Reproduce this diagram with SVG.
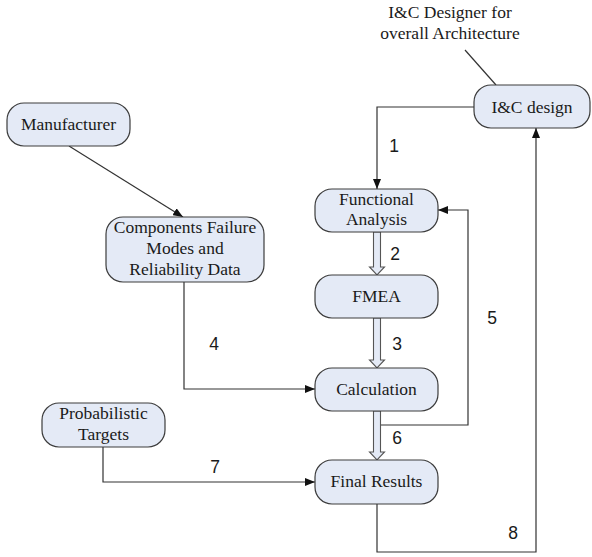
<svg xmlns="http://www.w3.org/2000/svg" width="592" height="557" viewBox="0 0 592 557">
  <style>
    .box { fill: #e4eaf6; stroke: #3c3c3c; stroke-width: 1.2; }
    text.lbl { font-family: "Liberation Serif", "Times New Roman", serif; font-size: 17.5px; fill: #1a1a1a; text-anchor: middle; }
    text.num { font-family: "Liberation Sans", Arial, sans-serif; font-size: 17.5px; fill: #1a1a1a; text-anchor: middle; }
    .wire { fill: none; stroke: #333; stroke-width: 1.2; }
    .flow { fill: #e4eaf6; stroke: #555; stroke-width: 1.1; }
  </style>
  <defs>
    <marker id="tip" viewBox="0 0 10 8" refX="10" refY="4" markerWidth="10" markerHeight="8" markerUnits="userSpaceOnUse" orient="auto">
      <path d="M0,0 L10,4 L0,8 Z" fill="#111"/>
    </marker>
  </defs>

  <rect width="592" height="557" fill="#ffffff"/>

  <!-- connectors -->
  <g id="connectors">
    <line class="wire" x1="465" y1="50" x2="496" y2="85"/>
    <polyline class="wire" points="474,107 377,107 377,189" marker-end="url(#tip)"/>
    <line class="wire" x1="69" y1="146" x2="183" y2="217" marker-end="url(#tip)"/>
    <polyline class="wire" points="184,282 184,389 315,389" marker-end="url(#tip)"/>
    <polyline class="wire" points="380.5,425 468,425 468,210 438,210" marker-end="url(#tip)"/>
    <polyline class="wire" points="103,447 103,482 315,482" marker-end="url(#tip)"/>
    <polyline class="wire" points="377,504 377,552 536,552 536,128" marker-end="url(#tip)"/>
    <polygon class="flow" points="373.5,232 380.5,232 380.5,267 384.5,267 377,275 369.5,267 373.5,267"/>
    <polygon class="flow" points="373.5,318 380.5,318 380.5,360 384.5,360 377,368 369.5,360 373.5,360"/>
    <polygon class="flow" points="373.5,411 380.5,411 380.5,452 384.5,452 377,460 369.5,452 373.5,452"/>
    <g font-family="'Liberation Sans', Arial, sans-serif">
      <text class="num" x="394" y="152">1</text>
      <text class="num" x="395" y="260">2</text>
      <text class="num" x="397" y="350">3</text>
      <text class="num" x="214" y="350">4</text>
      <text class="num" x="492" y="324">5</text>
      <text class="num" x="397" y="444">6</text>
      <text class="num" x="215" y="473">7</text>
      <text class="num" x="513" y="539">8</text>
    </g>
  </g>

  <!-- annotation -->
  <g id="designer-note" font-family="'Liberation Serif', serif">
    <text class="lbl" x="450" y="18">I&amp;C Designer for</text>
    <text class="lbl" x="450" y="39">overall Architecture</text>
  </g>

  <!-- nodes -->
  <g id="ic-design" font-family="'Liberation Serif', serif">
    <rect class="box" x="474" y="85" width="116" height="43" rx="17"/>
    <text class="lbl" x="532" y="113" font-family="'Liberation Serif', serif">I&amp;C design</text>
  </g>
  <g id="manufacturer" font-family="'Liberation Serif', serif">
    <rect class="box" x="7" y="103" width="123" height="43" rx="17"/>
    <text class="lbl" x="68.5" y="130" font-family="'Liberation Serif', serif">Manufacturer</text>
  </g>
  <g id="components" font-family="'Liberation Serif', serif">
    <rect class="box" x="106" y="217" width="158" height="65" rx="17"/>
    <text class="lbl" x="185" y="233" font-family="'Liberation Serif', serif">Components Failure</text>
    <text class="lbl" x="185" y="254" font-family="'Liberation Serif', serif">Modes and</text>
    <text class="lbl" x="185" y="275" font-family="'Liberation Serif', serif">Reliability Data</text>
  </g>
  <g id="functional-analysis" font-family="'Liberation Serif', serif">
    <rect class="box" x="315" y="189" width="123" height="43" rx="17"/>
    <text class="lbl" x="376.5" y="205" font-family="'Liberation Serif', serif">Functional</text>
    <text class="lbl" x="376.5" y="225" font-family="'Liberation Serif', serif">Analysis</text>
  </g>
  <g id="fmea" font-family="'Liberation Serif', serif">
    <rect class="box" x="315" y="275" width="123" height="43" rx="17"/>
    <text class="lbl" x="376.5" y="302" font-family="'Liberation Serif', serif">FMEA</text>
  </g>
  <g id="calculation" font-family="'Liberation Serif', serif">
    <rect class="box" x="315" y="368" width="123" height="43" rx="17"/>
    <text class="lbl" x="376.5" y="395" font-family="'Liberation Serif', serif">Calculation</text>
  </g>
  <g id="probabilistic-targets" font-family="'Liberation Serif', serif">
    <rect class="box" x="42" y="403" width="123" height="44" rx="17"/>
    <text class="lbl" x="103.5" y="419" font-family="'Liberation Serif', serif">Probabilistic</text>
    <text class="lbl" x="103.5" y="440" font-family="'Liberation Serif', serif">Targets</text>
  </g>
  <g id="final-results" font-family="'Liberation Serif', serif">
    <rect class="box" x="315" y="460" width="123" height="44" rx="17"/>
    <text class="lbl" x="376.5" y="487" font-family="'Liberation Serif', serif">Final Results</text>
  </g>
</svg>
